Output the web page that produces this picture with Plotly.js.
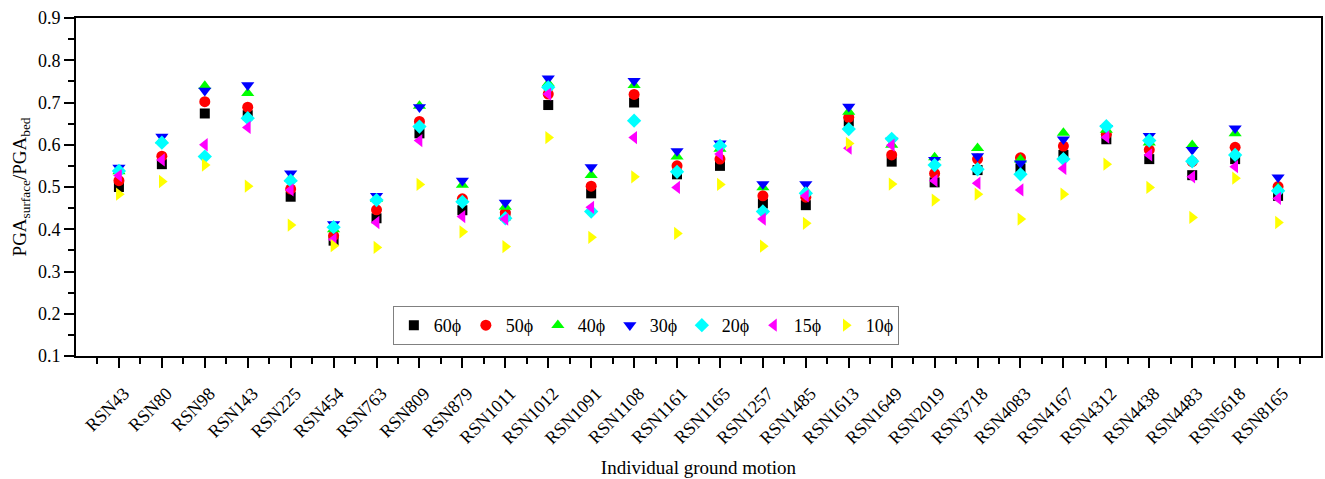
<!DOCTYPE html>
<html>
<head>
<meta charset="utf-8">
<script src="https://cdn.plot.ly/plotly-3.0.1.min.js"></script>
<style>html,body{margin:0;padding:0;background:#fff;}#chart{width:1325px;height:479px;}</style>
</head>
<body>
<div id="chart"></div>
<script>
const categories = ["RSN43","RSN80","RSN98","RSN143","RSN225","RSN454","RSN763","RSN809","RSN879","RSN1011","RSN1012","RSN1091","RSN1108","RSN1161","RSN1165","RSN1257","RSN1485","RSN1613","RSN1649","RSN2019","RSN3718","RSN4083","RSN4167","RSN4312","RSN4438","RSN4483","RSN5618","RSN8165"];
const seriesNames = ["60ϕ","50ϕ","40ϕ","30ϕ","20ϕ","15ϕ","10ϕ"];
const phi60 = [0.500,0.554,0.674,0.670,0.477,0.373,0.426,0.627,0.445,0.432,0.694,0.485,0.700,0.530,0.550,0.461,0.457,0.655,0.560,0.511,0.540,0.544,0.576,0.613,0.566,0.528,0.566,0.479];
const phi50 = [0.515,0.573,0.702,0.689,0.495,0.385,0.446,0.655,0.472,0.439,0.720,0.502,0.719,0.550,0.566,0.479,0.476,0.665,0.576,0.532,0.566,0.569,0.597,0.625,0.588,0.560,0.594,0.501];
const phi40 = [0.537,0.610,0.739,0.722,0.520,0.400,0.472,0.692,0.505,0.453,0.745,0.528,0.741,0.572,0.590,0.499,0.491,0.678,0.600,0.570,0.592,0.565,0.628,0.635,0.605,0.599,0.627,0.497];
const phi30 = [0.546,0.619,0.728,0.741,0.532,0.412,0.479,0.689,0.515,0.463,0.757,0.547,0.751,0.585,0.603,0.507,0.507,0.690,0.610,0.564,0.573,0.556,0.613,0.640,0.621,0.588,0.639,0.523];
const phi20 = [0.538,0.605,0.572,0.663,0.515,0.405,0.469,0.643,0.465,0.426,0.736,0.442,0.657,0.536,0.597,0.442,0.485,0.637,0.614,0.552,0.542,0.530,0.566,0.644,0.610,0.561,0.576,0.491];
const phi15 = [0.527,0.564,0.600,0.641,0.493,0.376,0.416,0.610,0.430,0.424,0.720,0.452,0.617,0.499,0.578,0.424,0.479,0.592,0.599,0.515,0.509,0.493,0.544,0.618,0.576,0.524,0.548,0.473];
const phi10 = [0.483,0.513,0.552,0.502,0.410,0.361,0.357,0.506,0.394,0.359,0.617,0.381,0.524,0.390,0.506,0.360,0.414,0.603,0.507,0.469,0.483,0.424,0.483,0.554,0.499,0.428,0.521,0.416];
const yTickVals = [0.1,0.2,0.3,0.4,0.5,0.6,0.7,0.8,0.9];

const allSeries = [phi60, phi50, phi40, phi30, phi20, phi15, phi10];
const symbols = ["square","circle","triangle-up","triangle-down","diamond","triangle-left","triangle-right"];
const colors = ["#000000","#ff0000","#00ff00","#0000ff","#00ffff","#ff00ff","#ffff00"];
const sizes = [10,11,11.5,11.5,11,11.5,11.5];

const xPos = categories.map((c, i) => i + 1);
const traces = allSeries.map((vals, k) => ({
  type: "scatter",
  mode: "markers",
  name: seriesNames[k],
  x: xPos,
  y: vals,
  text: categories,
  marker: {symbol: symbols[k], color: colors[k], size: sizes[k], line: {width: 0}}
}));

const font = "Liberation Serif, Times New Roman, serif";
const layout = {
  width: 1325, height: 479,
  margin: {l: 76, r: 4, t: 18, b: 123},
  paper_bgcolor: "#fff", plot_bgcolor: "#fff",
  font: {family: font, color: "#000", size: 17},
  showlegend: true,
  legend: {
    orientation: "h",
    x: 0.2545, xanchor: "left",
    y: 0.148, yanchor: "top",
    bordercolor: "#808080", borderwidth: 1,
    bgcolor: "#fff",
    font: {family: font, size: 18, color: "#000"},
    entrywidth: 27,
    itemwidth: 30
  },
  xaxis: {
    range: [0, categories.length + 1],
    tickmode: "array",
    tickvals: xPos,
    ticktext: categories,
    tickangle: -45,
    ticklabelstandoff: 8,
    ticklabelshift: 5,
    ticks: "outside", ticklen: 10, tickwidth: 2, tickcolor: "#000",
    minor: {tickmode: "linear", tick0: 0.5, dtick: 1, ticks: "outside", ticklen: 6, tickwidth: 2, tickcolor: "#000"},
    showline: true, linecolor: "#000", linewidth: 2, mirror: true,
    showgrid: false, zeroline: false,
    tickfont: {family: font, size: 18, color: "#000"},
    title: {text: "Individual ground motion", font: {family: font, size: 19, color: "#000"}, standoff: 14}
  },
  yaxis: {
    range: [0.1, 0.9],
    tickmode: "array",
    tickvals: yTickVals,
    ticktext: yTickVals.map(v => v.toFixed(1)),
    ticks: "outside", ticklen: 10, tickwidth: 2, tickcolor: "#000",
    minor: {tickmode: "linear", tick0: 0.15, dtick: 0.1, ticks: "outside", ticklen: 6, tickwidth: 2, tickcolor: "#000"},
    showline: true, linecolor: "#000", linewidth: 2, mirror: true,
    showgrid: false, zeroline: false,
    tickfont: {family: font, size: 18, color: "#000"},
    title: {text: "PGA<sub>surface</sub>/PGA<sub>bed</sub>", font: {family: font, size: 19, color: "#000"}, standoff: 6}
  }
};

Plotly.newPlot("chart", traces, layout, {displayModeBar: false, staticPlot: true});
</script>
</body>
</html>
